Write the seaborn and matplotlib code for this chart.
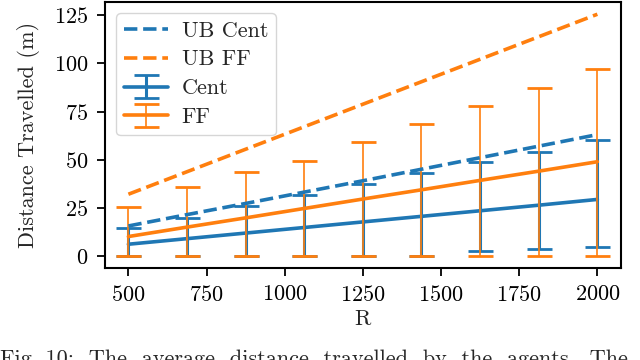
import matplotlib
matplotlib.use("Agg")
import matplotlib.pyplot as plt
import numpy as np
import pandas as pd
import seaborn as sns

# data
R = [500, 687.5, 875, 1062.5, 1250, 1437.5, 1625, 1812.5, 2000]
ub_cent = [15.5, 21.4, 27.2, 33.1, 39.0, 45.0, 51.0, 57.0, 63.0]
ub_ff = [32.0, 43.7, 55.4, 67.1, 78.8, 90.5, 102.2, 113.9, 125.6]
cent_mean = [6.0, 8.9, 11.8, 14.7, 17.6, 20.5, 23.4, 26.3, 29.3]
cent_low = [0, 0, 0, 0, 0, 0, 2.3, 3.5, 4.3]
cent_high = [14.5, 19.8, 25.9, 31.6, 37.4, 43.1, 48.6, 54.2, 60.0]
ff_mean = [10.0, 14.9, 19.7, 24.6, 29.5, 34.3, 39.2, 44.0, 48.9]
ff_low = [0, 0, 0, 0, 0, 0, 0, 0, 0]
ff_high = [25.4, 35.9, 43.8, 49.5, 59.0, 68.5, 78.0, 87.3, 97.0]

sns.set_style("ticks")
plt.rcParams["font.family"] = ["cmr10", "DejaVu Serif"]
plt.rcParams["mathtext.fontset"] = "cm"
plt.rcParams["axes.formatter.use_mathtext"] = True
plt.rcParams["font.size"] = 16

blue = "#1f77b4"
orange = "#ff7f0e"

fig = plt.figure(figsize=(6.4, 3.6), dpi=100)
ax = fig.add_axes([0.164, 0.256, 0.806, 0.738])

df = pd.DataFrame({"R": R, "ub_cent": ub_cent, "ub_ff": ub_ff})
sns.lineplot(data=df, x="R", y="ub_cent", ax=ax, color=blue, lw=2.6,
             linestyle="--", label="UB Cent", zorder=4)
sns.lineplot(data=df, x="R", y="ub_ff", ax=ax, color=orange, lw=2.6,
             linestyle="--", label="UB FF", zorder=4)

cm = np.array(cent_mean)
fm = np.array(ff_mean)
ax.errorbar(R, cm, yerr=[cm - np.array(cent_low), np.array(cent_high) - cm],
            color=blue, lw=2.6, elinewidth=2.2, capsize=9, capthick=2,
            label="Cent", zorder=2)
ax.errorbar(R, fm, yerr=[fm - np.array(ff_low), np.array(ff_high) - fm],
            color=orange, lw=2.6, elinewidth=1.2, capsize=9, capthick=2,
            label="FF", zorder=3)

ax.set_xticks([500, 750, 1000, 1250, 1500, 1750, 2000])
ax.set_yticks([0, 25, 50, 75, 100, 125])
ax.set_xlabel("R")
ax.set_ylabel("Distance Travelled (m)")
ax.xaxis.set_label_coords(0.5, -0.155)
ax.yaxis.set_label_coords(-0.125, 0.5)
for s in ax.spines.values():
    s.set_linewidth(1.5)
    s.set_color("black")
ax.tick_params(width=1.3, length=6, pad=6, colors="black", labelsize=16)
ax.legend(loc="upper left", fontsize=16, handlelength=2.0, borderpad=0.35,
          labelspacing=0.42, handletextpad=0.6, framealpha=0.8)

fig.text(0.0, -0.014, "Fig. 10:  The  average  distance  travelled  by  the  agents.  The",
         fontsize=16, va="baseline", ha="left")

fig.savefig("out.png", dpi=100)
